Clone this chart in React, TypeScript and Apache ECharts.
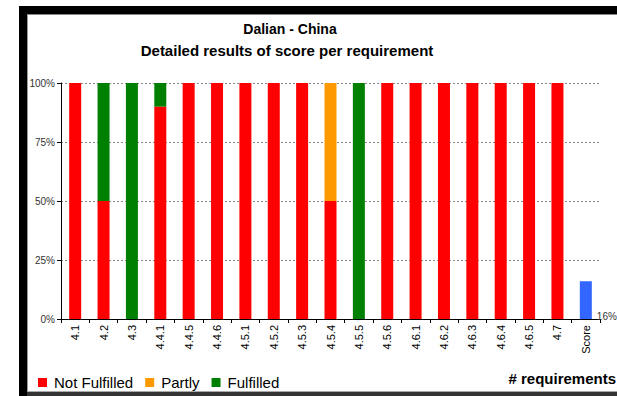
import React, { useEffect, useRef } from "react";
import * as echarts from "echarts";

const categories = ["4.1", "4.2", "4.3", "4.4.1", "4.4.5", "4.4.6", "4.5.1", "4.5.2", "4.5.3", "4.5.4", "4.5.5", "4.5.6", "4.6.1", "4.6.2", "4.6.3", "4.6.4", "4.6.5", "4.7", "Score"];
const notFulfilled = [100, 50, 0, 90, 100, 100, 100, 100, 100, 50, 0, 100, 100, 100, 100, 100, 100, 100, null];
const partly = [0, 0, 0, 0, 0, 0, 0, 0, 0, 50, 0, 0, 0, 0, 0, 0, 0, 0, null];
const fulfilled = [0, 50, 100, 10, 0, 0, 0, 0, 0, 0, 100, 0, 0, 0, 0, 0, 0, 0, null];
const score = [null, null, null, null, null, null, null, null, null, null, null, null, null, null, null, null, null, null, 16];
const yTicks = [0, 25, 50, 75, 100];

const FONT = "Arial, 'Liberation Sans', sans-serif";

export default function App() {
  const ref = useRef<HTMLDivElement>(null);
  useEffect(() => {
    if (!ref.current) return;
    const chart = echarts.init(ref.current, null, { renderer: "svg" });
    chart.setOption({
      animation: false,
      backgroundColor: "#ffffff",
      textStyle: { fontFamily: FONT },
      grid: { left: 61, right: 17, top: 83, bottom: 77, containLabel: false },
      legend: {
        left: 33,
        top: 370,
        icon: "rect",
        itemWidth: 9,
        itemHeight: 9,
        itemGap: 12,
        data: ["Not Fulfilled", "Partly", "Fulfilled"],
        textStyle: { fontSize: 15, color: "#000", fontFamily: FONT, padding: [0, 0, 0, 2] },
      },
      xAxis: {
        type: "category",
        data: categories,
        axisLine: { lineStyle: { color: "#000", width: 1 } },
        axisTick: { show: true, length: 4, lineStyle: { color: "#000" } },
        axisLabel: { rotate: 90, fontSize: 11, color: "#000", margin: 6, fontFamily: FONT },
      },
      yAxis: {
        type: "value",
        min: yTicks[0],
        max: yTicks[yTicks.length - 1],
        interval: 25,
        axisLine: { show: true, lineStyle: { color: "#000" } },
        axisTick: { show: true, length: 4, lineStyle: { color: "#000" } },
        axisLabel: { formatter: "{value}%", fontSize: 10, color: "#333", margin: 6, fontFamily: FONT },
        splitLine: { show: true, lineStyle: { color: "#888", type: [2, 2], width: 1 } },
      },
      series: [
        { name: "Not Fulfilled", type: "bar", stack: "a", barWidth: 12, data: notFulfilled, itemStyle: { color: "#ff0000" } },
        { name: "Partly", type: "bar", stack: "a", barWidth: 12, data: partly, itemStyle: { color: "#ff9900" } },
        { name: "Fulfilled", type: "bar", stack: "a", barWidth: 12, data: fulfilled, itemStyle: { color: "#008000" } },
        {
          name: "Score",
          type: "bar",
          stack: "a",
          barWidth: 12,
          data: score,
          itemStyle: { color: "#3366ff" },
          label: {
            show: true,
            position: "right",
            distance: 5,
            offset: [0, 16],
            formatter: "{c}%",
            fontSize: 10,
            color: "#333",
            fontFamily: FONT,
          },
        },
      ],
      graphic: [
        { type: "rect", shape: { x: 19, y: 6, width: 598, height: 8 }, style: { fill: "#000" }, silent: true },
        { type: "rect", shape: { x: 19, y: 6, width: 8, height: 390 }, style: { fill: "#000" }, silent: true },
        { type: "rect", shape: { x: 27, y: 14, width: 590, height: 1 }, style: { fill: "#888" }, silent: true },
        { type: "rect", shape: { x: 27, y: 14, width: 1, height: 378 }, style: { fill: "#999" }, silent: true },
        { type: "rect", shape: { x: 27, y: 391, width: 590, height: 1 }, style: { fill: "#aaa" }, silent: true },
        { type: "rect", shape: { x: 27, y: 392, width: 590, height: 4 }, style: { fill: "#333" }, silent: true },
        {
          type: "text",
          x: 290,
          y: 29,
          style: { text: "Dalian - China", font: `bold 14px ${FONT}`, fill: "#000", textAlign: "center", textVerticalAlign: "middle" },
        },
        {
          type: "text",
          x: 287,
          y: 50,
          style: { text: "Detailed results of score per requirement", font: `bold 15px ${FONT}`, fill: "#000", textAlign: "center", textVerticalAlign: "middle" },
        },
        {
          type: "text",
          x: 616,
          y: 378,
          style: { text: "# requirements", font: `bold 15px ${FONT}`, fill: "#000", textAlign: "right", textVerticalAlign: "middle" },
        },
      ],
    });
    return () => chart.dispose();
  }, []);
  return <div ref={ref} style={{ position: "fixed", left: 0, top: 0, width: 617, height: 396 }} />;
}
